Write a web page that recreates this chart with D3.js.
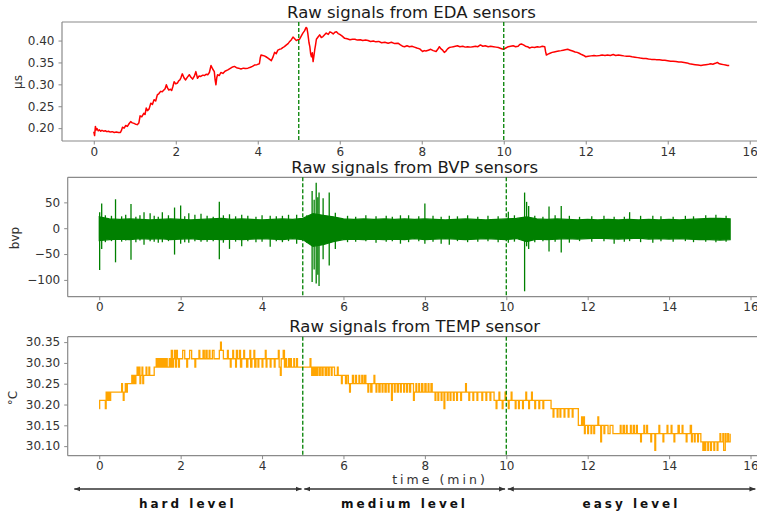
<!DOCTYPE html>
<html>
<head>
<meta charset="utf-8">
<script src="https://cdn.jsdelivr.net/npm/d3@7"></script>
<style>
  html, body { margin: 0; padding: 0; background: #fff; }
  svg { display: block; }
  text { font-family: "DejaVu Sans", sans-serif; }
</style>
</head>
<body>
<svg id="chart" width="757" height="515"></svg>
<script>
// ---------------- DATA ----------------
const xTicks = [0, 2, 4, 6, 8, 10, 12, 14, 16];
const phaseBounds = [5, 10];

// EDA (µS)
const edaT = [0,0.02,0.04,0.06,0.08,0.11,0.14,0.17,0.2,0.24,0.28,0.32,0.36,0.4,0.45,0.5,0.55,0.6,0.65,0.68,0.7,0.74,0.78,0.82,0.86,0.9,0.94,0.98,1.02,1.06,1.1,1.13,1.17,1.22,1.25,1.28,1.31,1.35,1.39,1.43,1.47,1.51,1.55,1.59,1.63,1.67,1.71,1.74,1.77,1.8,1.83,1.87,1.9,1.93,1.96,2.0,2.04,2.07,2.1,2.13,2.16,2.2,2.24,2.28,2.33,2.37,2.41,2.45,2.49,2.53,2.57,2.61,2.66,2.7,2.74,2.78,2.82,2.86,2.9,2.94,2.96,2.98,3.0,3.02,3.06,3.1,3.15,3.2,3.27,3.32,3.37,3.43,3.48,3.53,3.59,3.65,3.7,3.76,3.82,3.87,3.92,3.98,4.04,4.06,4.08,4.12,4.16,4.2,4.25,4.29,4.33,4.37,4.41,4.45,4.49,4.53,4.57,4.61,4.65,4.7,4.74,4.78,4.82,4.86,4.9,4.94,4.98,5.02,5.06,5.1,5.14,5.18,5.2,5.22,5.25,5.27,5.29,5.31,5.33,5.35,5.37,5.39,5.41,5.43,5.47,5.51,5.55,5.59,5.63,5.67,5.72,5.76,5.8,5.84,5.88,5.92,5.96,6.0,6.06,6.12,6.18,6.25,6.31,6.37,6.43,6.5,6.56,6.63,6.69,6.75,6.82,6.88,6.95,7.02,7.1,7.18,7.26,7.34,7.42,7.48,7.53,7.58,7.64,7.7,7.76,7.82,7.88,7.95,8.02,8.06,8.1,8.16,8.22,8.28,8.35,8.39,8.43,8.47,8.51,8.55,8.59,8.63,8.67,8.72,8.77,8.82,8.87,8.93,9.0,9.06,9.12,9.19,9.25,9.31,9.37,9.43,9.49,9.55,9.62,9.68,9.75,9.81,9.87,9.93,9.99,10.05,10.11,10.17,10.23,10.29,10.35,10.39,10.43,10.48,10.53,10.58,10.63,10.69,10.75,10.82,10.88,10.94,11.0,11.02,11.04,11.08,11.13,11.18,11.23,11.28,11.34,11.4,11.45,11.5,11.56,11.62,11.68,11.74,11.79,11.84,11.9,11.95,12.0,12.06,12.13,12.2,12.27,12.34,12.4,12.47,12.53,12.6,12.67,12.73,12.8,12.87,12.93,13.0,13.07,13.13,13.2,13.27,13.33,13.4,13.47,13.53,13.6,13.67,13.73,13.8,13.87,13.93,14.0,14.07,14.13,14.2,14.27,14.33,14.4,14.47,14.53,14.6,14.67,14.74,14.81,14.87,14.93,15.0,15.05,15.1,15.16,15.21,15.26,15.31,15.36,15.41,15.46,15.5];
const edaV = [0.192,0.183,0.204,0.196,0.199,0.194,0.196,0.193,0.195,0.193,0.194,0.192,0.193,0.191,0.192,0.190,0.191,0.190,0.190,0.196,0.202,0.200,0.206,0.204,0.210,0.215,0.212,0.211,0.209,0.208,0.212,0.228,0.226,0.234,0.231,0.246,0.240,0.244,0.257,0.254,0.265,0.262,0.276,0.279,0.284,0.283,0.287,0.290,0.299,0.292,0.287,0.289,0.286,0.295,0.306,0.301,0.303,0.308,0.310,0.316,0.324,0.315,0.310,0.316,0.322,0.316,0.312,0.318,0.329,0.314,0.319,0.318,0.321,0.320,0.323,0.322,0.327,0.343,0.335,0.329,0.310,0.299,0.315,0.322,0.320,0.327,0.325,0.330,0.333,0.336,0.339,0.341,0.338,0.337,0.335,0.337,0.336,0.337,0.339,0.341,0.344,0.345,0.347,0.360,0.367,0.366,0.365,0.363,0.360,0.357,0.354,0.362,0.373,0.370,0.378,0.380,0.381,0.384,0.386,0.390,0.393,0.398,0.402,0.408,0.404,0.400,0.402,0.403,0.410,0.417,0.422,0.430,0.428,0.417,0.395,0.386,0.370,0.363,0.372,0.352,0.365,0.379,0.390,0.403,0.408,0.413,0.407,0.409,0.413,0.417,0.414,0.420,0.418,0.415,0.419,0.420,0.416,0.414,0.410,0.405,0.404,0.402,0.403,0.403,0.401,0.402,0.400,0.401,0.400,0.398,0.399,0.397,0.398,0.395,0.396,0.394,0.396,0.393,0.394,0.390,0.387,0.386,0.388,0.386,0.387,0.385,0.383,0.381,0.375,0.377,0.376,0.378,0.380,0.377,0.375,0.380,0.386,0.381,0.378,0.373,0.376,0.381,0.384,0.385,0.386,0.387,0.388,0.386,0.387,0.385,0.386,0.385,0.386,0.387,0.386,0.390,0.387,0.388,0.386,0.387,0.386,0.385,0.384,0.382,0.380,0.383,0.386,0.387,0.388,0.386,0.387,0.391,0.392,0.390,0.387,0.386,0.383,0.385,0.384,0.386,0.385,0.387,0.386,0.375,0.367,0.369,0.371,0.373,0.374,0.375,0.376,0.377,0.378,0.379,0.380,0.378,0.376,0.374,0.373,0.371,0.368,0.366,0.363,0.364,0.365,0.366,0.365,0.366,0.367,0.366,0.367,0.366,0.368,0.366,0.367,0.366,0.365,0.364,0.364,0.363,0.362,0.361,0.360,0.359,0.359,0.358,0.357,0.357,0.356,0.356,0.355,0.355,0.354,0.353,0.353,0.352,0.351,0.351,0.350,0.349,0.347,0.346,0.345,0.344,0.343,0.344,0.345,0.346,0.347,0.346,0.348,0.350,0.347,0.346,0.345,0.344,0.343,0.343];
const edaTicks = [0.20, 0.25, 0.30, 0.35, 0.40];

// BVP envelope
const bvpT  = [0,0.25,0.5,0.75,1,1.25,1.5,1.75,2,2.25,2.5,2.75,3,3.25,3.5,3.75,4,4.25,4.5,4.75,5,5.25,5.5,5.75,6,6.25,6.5,6.75,7,7.25,7.5,7.75,8,8.25,8.5,8.75,9,9.25,9.5,9.75,10,10.25,10.5,10.75,11,11.25,11.5,11.75,12,12.25,12.5,12.75,13,13.25,13.5,13.75,14,14.25,14.5,14.75,15,15.25,15.5];
const bvpHi = [22,18,17,18,17,16,17,18,17,16,17,18,19,17,18,17,16,17,18,17,19,28,25,22,18,17,18,17,18,17,18,17,18,17,16,17,18,17,16,17,18,19,22,18,17,18,17,16,17,16,17,16,17,16,17,16,17,16,17,18,19,19,18];
const bvpLo = [-24,-22,-21,-22,-20,-21,-20,-22,-21,-20,-22,-21,-22,-21,-22,-21,-20,-21,-22,-20,-22,-35,-32,-26,-22,-21,-22,-21,-22,-21,-22,-20,-22,-21,-20,-21,-22,-21,-20,-21,-22,-20,-26,-21,-22,-21,-20,-21,-20,-19,-20,-21,-20,-19,-21,-20,-21,-20,-21,-22,-22,-23,-22];
// BVP large spikes
const spikeT  = [0.01,0.06,0.40,0.78,1.10,1.25,1.55,1.85,2.00,2.20,2.50,2.95,3.20,3.50,4.20,4.85,5.23,5.28,5.33,5.37,5.40,5.50,5.65,5.80,7.40,8.00,8.40,8.60,10.05,10.45,10.50,10.55,11.05,11.35,12.65,13.03,13.60];
const spikeHi = [31,48,56,47,31,29,31,40,44,29,28,51,27,26,24,26,72,55,88,60,69,58,69,30,25,48,22,24,32,69,51,43,42,43,22,31,24];
const spikeLo = [-81,-40,-66,-61,-32,-25,-27,-51,-30,-28,-26,-60,-40,-35,-36,-30,-104,-80,-107,-90,-112,-60,-72,-40,-30,-30,-30,-32,-28,-122,-35,-40,-45,-47,-30,-25,-28];
// BVP small ragged excursions
const miniT  = [0.15,0.3,0.55,0.65,0.9,1.0,1.35,1.45,1.7,2.1,2.35,2.65,2.8,3.05,3.35,3.65,3.85,4.0,4.35,4.5,4.65,5.1,6.1,6.3,6.55,6.8,7.05,7.2,7.6,7.85,8.2,8.8,9.05,9.3,9.55,9.8,10.2,10.7,10.9,11.2,11.55,11.8,12.1,12.4,12.9,13.3,13.8,14.1,14.4,14.6,14.9,15.15,15.4];
const miniHi = [25,24,23,26,22,25,24,22,25,23,26,24,22,25,23,24,22,25,23,24,26,25,24,22,25,23,24,22,25,23,24,23,25,22,24,23,25,24,22,25,24,22,23,24,22,24,23,22,24,23,25,26,24];
const miniLo = [-27,-25,-26,-24,-27,-24,-26,-28,-25,-27,-25,-26,-25,-28,-26,-25,-27,-26,-25,-27,-25,-28,-27,-26,-25,-28,-26,-25,-27,-25,-26,-25,-27,-26,-25,-27,-26,-27,-25,-26,-28,-25,-26,-25,-26,-27,-25,-26,-25,-27,-26,-27,-26];
const bvpTicks = [-100, -50, 0, 50];

// TEMP (°C) step samples
const tempT = [0.00,0.01,0.15,0.17,0.20,0.23,0.25,0.28,0.55,0.57,0.59,0.61,0.64,0.66,0.69,0.80,0.82,0.85,0.88,0.90,0.93,0.96,0.98,1.00,1.02,1.05,1.07,1.09,1.15,1.17,1.22,1.24,1.35,1.40,1.42,1.45,1.47,1.50,1.52,1.55,1.57,1.60,1.62,1.65,1.67,1.72,1.74,1.77,1.80,1.82,1.85,1.87,1.90,1.92,1.95,1.97,2.05,2.10,2.15,2.17,2.22,2.27,2.35,2.37,2.45,2.47,2.55,2.58,2.62,2.65,2.70,2.72,2.78,2.82,2.95,2.98,3.00,3.05,3.15,3.17,3.22,3.24,3.28,3.30,3.35,3.37,3.40,3.45,3.47,3.50,3.55,3.57,3.62,3.65,3.70,3.72,3.75,3.80,3.82,3.85,3.90,3.92,4.00,4.02,4.08,4.10,4.12,4.20,4.22,4.30,4.32,4.40,4.42,4.45,4.47,4.52,4.55,4.58,4.60,4.65,4.67,4.70,4.72,4.78,4.80,4.85,4.87,5.18,5.20,5.22,5.25,5.28,5.30,5.33,5.36,5.40,5.43,5.47,5.50,5.55,5.58,5.62,5.65,5.70,5.72,5.78,5.85,5.87,5.95,5.97,6.05,6.08,6.12,6.15,6.17,6.22,6.25,6.30,6.32,6.38,6.40,6.45,6.48,6.52,6.55,6.60,6.62,6.67,6.70,6.75,6.77,6.80,6.82,6.87,6.90,6.95,6.97,7.02,7.05,7.10,7.12,7.18,7.20,7.25,7.27,7.32,7.35,7.40,7.42,7.48,7.50,7.55,7.57,7.62,7.65,7.72,7.74,7.78,7.80,7.85,7.87,7.92,7.95,8.00,8.03,8.08,8.10,8.15,8.18,8.25,8.27,8.32,8.34,8.40,8.42,8.47,8.49,8.55,8.57,8.62,8.64,8.70,8.72,8.78,8.80,8.88,8.90,9.00,9.02,9.08,9.10,9.18,9.20,9.28,9.30,9.40,9.42,9.50,9.52,9.60,9.62,9.70,9.75,9.77,9.82,9.84,9.90,9.92,9.97,9.99,10.05,10.07,10.12,10.14,10.22,10.24,10.30,10.32,10.40,10.42,10.48,10.50,10.55,10.57,10.62,10.64,10.70,10.72,10.80,10.82,10.90,10.92,11.10,11.15,11.17,11.25,11.27,11.32,11.34,11.42,11.44,11.52,11.54,11.62,11.64,11.77,11.85,11.87,11.90,11.92,11.94,12.00,12.02,12.08,12.10,12.15,12.17,12.25,12.27,12.32,12.34,12.40,12.42,12.50,12.55,12.62,12.80,12.82,12.87,12.90,12.95,12.97,13.05,13.07,13.12,13.15,13.20,13.22,13.30,13.32,13.38,13.40,13.45,13.47,13.55,13.57,13.65,13.67,13.75,13.77,13.85,13.87,13.95,13.97,14.05,14.07,14.12,14.14,14.22,14.25,14.32,14.34,14.42,14.44,14.52,14.55,14.57,14.62,14.64,14.70,14.72,14.78,14.83,14.85,14.88,14.90,14.95,14.97,15.02,15.04,15.10,15.12,15.18,15.20,15.25,15.27,15.32,15.34,15.38,15.40,15.44,15.46,15.50];
const tempV = [30.19,30.21,30.19,30.23,30.21,30.23,30.21,30.23,30.25,30.23,30.21,30.23,30.25,30.23,30.25,30.27,30.25,30.27,30.25,30.27,30.29,30.27,30.29,30.25,30.27,30.29,30.25,30.27,30.29,30.27,30.29,30.27,30.29,30.31,30.29,30.31,30.29,30.31,30.29,30.31,30.29,30.31,30.29,30.31,30.29,30.31,30.29,30.33,30.29,30.31,30.33,30.29,30.33,30.31,30.29,30.31,30.33,30.31,30.29,30.31,30.33,30.31,30.29,30.31,30.33,30.31,30.33,30.31,30.33,30.31,30.33,30.31,30.33,30.31,30.33,30.35,30.33,30.31,30.33,30.31,30.29,30.31,30.33,30.31,30.29,30.33,30.31,30.33,30.29,30.31,30.33,30.31,30.29,30.31,30.33,30.29,30.31,30.33,30.29,30.31,30.29,30.31,30.29,30.31,30.33,30.29,30.31,30.29,30.31,30.29,30.31,30.33,30.29,30.27,30.31,30.33,30.29,30.31,30.29,30.31,30.29,30.31,30.29,30.31,30.29,30.31,30.29,30.31,30.29,30.27,30.29,30.27,30.29,30.27,30.29,30.27,30.29,30.27,30.29,30.27,30.29,30.27,30.29,30.27,30.29,30.27,30.29,30.27,30.25,30.27,30.25,30.27,30.25,30.23,30.25,30.27,30.25,30.27,30.25,30.27,30.25,30.27,30.25,30.27,30.25,30.23,30.25,30.23,30.25,30.27,30.25,30.23,30.25,30.23,30.25,30.23,30.25,30.23,30.25,30.23,30.25,30.21,30.25,30.23,30.25,30.23,30.25,30.23,30.25,30.23,30.25,30.23,30.25,30.23,30.25,30.21,30.23,30.25,30.23,30.25,30.23,30.25,30.23,30.25,30.23,30.25,30.23,30.25,30.23,30.21,30.23,30.21,30.23,30.21,30.23,30.19,30.23,30.21,30.23,30.21,30.23,30.21,30.23,30.21,30.23,30.21,30.23,30.25,30.23,30.21,30.23,30.21,30.23,30.21,30.23,30.21,30.23,30.21,30.23,30.21,30.23,30.21,30.19,30.21,30.23,30.21,30.19,30.21,30.23,30.21,30.19,30.21,30.23,30.21,30.19,30.21,30.19,30.21,30.19,30.21,30.23,30.21,30.19,30.21,30.23,30.21,30.19,30.21,30.19,30.21,30.19,30.21,30.19,30.17,30.19,30.17,30.19,30.17,30.19,30.17,30.19,30.17,30.19,30.17,30.19,30.15,30.17,30.15,30.17,30.13,30.15,30.13,30.15,30.13,30.15,30.13,30.15,30.17,30.15,30.11,30.15,30.13,30.15,30.13,30.15,30.13,30.15,30.13,30.15,30.13,30.15,30.13,30.15,30.13,30.15,30.13,30.15,30.13,30.11,30.13,30.15,30.13,30.15,30.13,30.11,30.13,30.09,30.13,30.15,30.13,30.11,30.13,30.15,30.13,30.15,30.13,30.11,30.13,30.15,30.13,30.15,30.13,30.11,30.13,30.15,30.11,30.13,30.11,30.13,30.11,30.13,30.11,30.09,30.11,30.09,30.11,30.09,30.11,30.09,30.11,30.09,30.11,30.09,30.11,30.13,30.11,30.13,30.09,30.13,30.11,30.13,30.11,30.13];
const tempTicks = [30.10, 30.15, 30.20, 30.25, 30.30, 30.35];

const titles = ["Raw signals from EDA sensors", "Raw signals from BVP sensors", "Raw signals from TEMP sensor"];
const yLabels = ["μs", "bvp", "°C"];
const levelNames = ["hard level", "medium level", "easy level"];
const levelBounds = [[-0.65, 5], [5, 10], [10, 16.15]];

// ---------------- DRAW ----------------
const svg = d3.select("#chart");
const SPINE = "#8a8a8a", TXT = "#333";
const xDomain = [-0.775, 16.275];

function padded(ext) { const d = (ext[1] - ext[0]) * 0.05; return [ext[0] - d, ext[1] + d]; }

function makePanel(p) {
  const g = svg.append("g").attr("transform", `translate(${p.left},${p.top})`);
  const x = d3.scaleLinear().domain(xDomain).range([0, p.w]);
  const y = d3.scaleLinear().domain(p.yDomain).range([p.h, 0]);
  const ax = g.append("g").attr("transform", `translate(0,${p.h})`)
    .call(d3.axisBottom(x).tickValues(xTicks).tickSize(3.5).tickPadding(2.5).tickFormat(d3.format("d")));
  const ay = g.append("g")
    .call(d3.axisLeft(y).tickValues(p.yTicks).tickSize(3.5).tickPadding(4).tickFormat(p.fmt));
  [ax, ay].forEach(a => {
    a.select(".domain").remove();
    a.selectAll(".tick line").attr("stroke", SPINE).attr("stroke-width", 1);
    a.selectAll(".tick text").attr("fill", TXT).style("font-size", "12px").style("font-family", "DejaVu Sans");
  });
  g.append("line").attr("x1", 0).attr("x2", 0).attr("y1", 0).attr("y2", p.h).attr("stroke", SPINE).attr("stroke-width", 1.2);
  g.append("line").attr("x1", 0).attr("x2", p.w).attr("y1", p.h).attr("y2", p.h).attr("stroke", SPINE).attr("stroke-width", 1.2);
  g.append("line").attr("x1", 0).attr("x2", p.w).attr("y1", 0).attr("y2", 0).attr("stroke", SPINE).attr("stroke-width", 1.2);
  g.append("line").attr("x1", p.w).attr("x2", p.w).attr("y1", 0).attr("y2", p.h).attr("stroke", SPINE).attr("stroke-width", 1.2);
  g.append("text").attr("x", p.w / 2).attr("y", p.titleY).attr("text-anchor", "middle")
    .style("font-size", "16.5px").attr("fill", "#1a1a1a").text(p.title);
  svg.append("text").attr("transform", `translate(${p.ylx},${p.yly}) rotate(-90)`)
    .attr("text-anchor", "middle").attr("dy", "0.35em")
    .style("font-size", "12px").attr("fill", TXT).text(p.ylabel);
  const plot = g.append("g");
  return { g, plot, x, y };
}

// Panel 1: EDA
const p1 = makePanel({ left: 62, top: 22, w: 699, h: 119, yDomain: padded(d3.extent(edaV)),
  yTicks: edaTicks, fmt: d3.format(".2f"), title: titles[0], titleY: -4, ylabel: yLabels[0], ylx: 18, yly: 82 });
p1.plot.append("path").datum(edaT.map((t, i) => [t, edaV[i]]))
  .attr("fill", "none").attr("stroke", "#ff0000").attr("stroke-width", 1.5).attr("stroke-linejoin", "round")
  .attr("d", d3.line().x(d => p1.x(d[0])).y(d => p1.y(d[1])));

// Panel 2: BVP
const bvpExt = [d3.min(spikeLo.concat(bvpLo)), d3.max(spikeHi.concat(bvpHi))];
const p2 = makePanel({ left: 67.7, top: 177.3, w: 694, h: 119.4, yDomain: padded(bvpExt),
  yTicks: bvpTicks, fmt: d => (d < 0 ? "\u2212" + Math.abs(d) : String(d)), title: titles[1], titleY: -4.5, ylabel: yLabels[1], ylx: 15, yly: 238 });
p2.plot.append("path").datum(bvpT.map((t, i) => [t, bvpHi[i], bvpLo[i]]))
  .attr("fill", "#008000").attr("stroke", "#008000").attr("stroke-width", 1.2)
  .attr("d", d3.area().x(d => p2.x(d[0])).y0(d => p2.y(d[2])).y1(d => p2.y(d[1])));
const spikes = spikeT.map((t, i) => [t, spikeHi[i], spikeLo[i]])
  .concat(miniT.map((t, i) => [t, miniHi[i], miniLo[i]]));
p2.plot.selectAll("line.spike").data(spikes).join("line")
  .attr("class", "spike")
  .attr("x1", d => p2.x(d[0])).attr("x2", d => p2.x(d[0]))
  .attr("y1", d => p2.y(d[1])).attr("y2", d => p2.y(d[2]))
  .attr("stroke", "#008000").attr("stroke-width", 1.3);

// Panel 3: TEMP
const p3 = makePanel({ left: 67.7, top: 336.7, w: 694, h: 119, yDomain: padded(d3.extent(tempV)),
  yTicks: tempTicks, fmt: d3.format(".2f"), title: titles[2], titleY: -4.5, ylabel: yLabels[2], ylx: 13, yly: 398 });
p3.plot.append("path").datum(tempT.map((t, i) => [t, tempV[i]]))
  .attr("fill", "none").attr("stroke", "#ffa500").attr("stroke-width", 1.3)
  .attr("d", d3.line().curve(d3.curveStepAfter).x(d => p3.x(d[0])).y(d => p3.y(d[1])));

// phase boundaries
[[p1, 119], [p2, 119.4], [p3, 119]].forEach(([p, h]) => {
  p.g.selectAll("line.phase").data(phaseBounds).join("line").attr("class", "phase")
    .attr("x1", d => p.x(d)).attr("x2", d => p.x(d)).attr("y1", 0).attr("y2", h)
    .attr("stroke", "#008000").attr("stroke-width", 1.3).attr("stroke-dasharray", "4,2");
});

// x-axis label
svg.append("text").attr("x", 440).attr("y", 484).attr("text-anchor", "middle")
  .style("font-size", "12.5px").style("letter-spacing", "3px").attr("fill", TXT).text("time (min)");

// level arrows
const defs = svg.append("defs");
defs.append("marker").attr("id", "ah").attr("viewBox", "0 0 10 10").attr("refX", 10).attr("refY", 5)
  .attr("markerWidth", 6).attr("markerHeight", 6).attr("markerUnits", "userSpaceOnUse").attr("orient", "auto-start-reverse")
  .append("path").attr("d", "M0,1 L10,5 L0,9 Z").attr("fill", "#333");
const xa = d3.scaleLinear().domain(xDomain).range([67.7, 761.7]);
const arrowY = 489;
levelBounds.forEach((b, i) => {
  svg.append("line").attr("x1", xa(b[0]) + 1.5).attr("x2", xa(b[1]) - 1.2)
    .attr("y1", arrowY).attr("y2", arrowY).attr("stroke", "#333").attr("stroke-width", 1.6)
    .attr("marker-start", "url(#ah)").attr("marker-end", "url(#ah)");
  svg.append("text").attr("x", (xa(b[0]) + xa(b[1])) / 2).attr("y", 508).attr("text-anchor", "middle")
    .style("font-size", "12px").style("font-weight", "bold").style("letter-spacing", "3px")
    .attr("fill", "#111").text(levelNames[i]);
});
</script>
</body>
</html>
